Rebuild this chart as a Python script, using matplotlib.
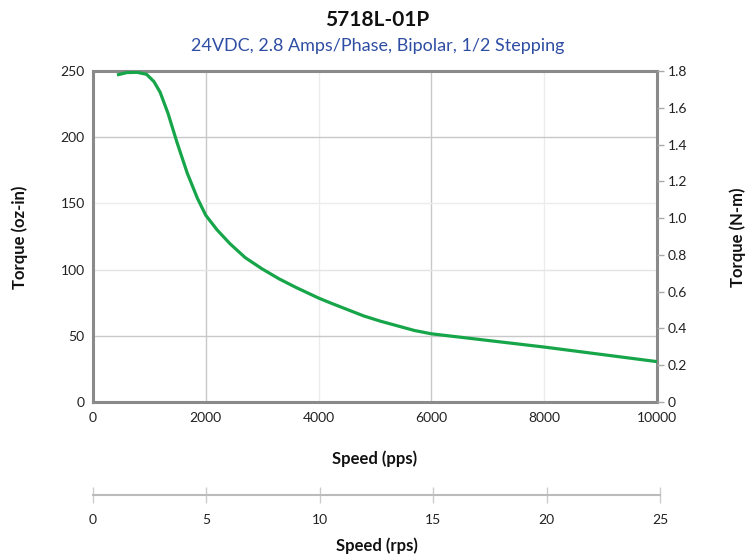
import matplotlib
matplotlib.use("Agg")
import matplotlib.pyplot as plt
import numpy as np

plt.rcParams['font.family'] = ['Lato', 'DejaVu Sans']

# Data
speed_pps = [425, 600, 780, 950, 1080, 1190, 1330, 1490, 1670, 1850, 2000, 2200, 2430,
             2700, 3000, 3300, 3600, 4000, 4200, 4500, 4800, 5100, 5400, 5700, 6000,
             7000, 8000, 9000, 10000]
torque_ozin = [247, 248.8, 249, 247.5, 242, 234, 218, 196, 173, 154, 141, 130, 119.5,
               109, 100.5, 93, 86.5, 78.5, 75, 70, 65, 61, 57.5, 54, 51.5,
               46.5, 41.5, 36, 30.5]

x_ticks = [0, 2000, 4000, 6000, 8000, 10000]
y_ticks = [0, 50, 100, 150, 200, 250]
nm_ticks = [0, 0.2, 0.4, 0.6, 0.8, 1.0, 1.2, 1.4, 1.6, 1.8]
nm_labels = ['0', '0.2', '0.4', '0.6', '0.8', '1.0', '1.2', '1.4', '1.6', '1.8']
rps_ticks = [0, 5, 10, 15, 20, 25]

title = "5718L-01P"
subtitle = "24VDC, 2.8 Amps/Phase, Bipolar, 1/2 Stepping"

W, H = 755, 556
fig = plt.figure(figsize=(W / 100, H / 100), dpi=100)

L, R, T, B = 93, 657, 71, 402
ax = fig.add_axes([L / W, 1 - B / H, (R - L) / W, (B - T) / H])
ax.set_xlim(0, 10000)
ax.set_ylim(0, 250)

# grid lines
strong = '#c8c8c8'
faint = '#ececec'
for xv, c in zip([2000, 4000, 6000, 8000], [strong, faint, strong, faint]):
    ax.axvline(xv, color=c, lw=1.0, zorder=0)
for yv, c in zip([50, 100, 150, 200], [strong, '#e4e4e4', faint, strong]):
    ax.axhline(yv, color=c, lw=1.0, zorder=0)

ax.plot(speed_pps, torque_ozin, color='#17a54a', lw=2.3, solid_capstyle='butt',
        solid_joinstyle='round', zorder=3)

for s in ax.spines.values():
    s.set_color('#8a8a8a')
    s.set_linewidth(2.2)

ax.set_xticks(x_ticks)
ax.set_xticklabels([str(v) for v in x_ticks])
ax.set_yticks(y_ticks)
ax.tick_params(axis='both', length=0, labelsize=10, colors='#222222', pad=7)
ax.tick_params(axis='y', pad=6)

ax2 = ax.twinx()
ax2.set_ylim(0, 1.8)
ax2.set_yticks(nm_ticks)
ax2.set_yticklabels(nm_labels)
ax2.tick_params(axis='y', length=5, width=1, color='#aaaaaa', labelsize=10,
                labelcolor='#222222', pad=3)
for s in ax2.spines.values():
    s.set_visible(False)

fig.text(0.5, 1 - 20 / H, title, ha='center', va='center', fontsize=15,
         fontweight='bold', color='#111111')
fig.text(0.5, 1 - 46 / H, subtitle, ha='center', va='center', fontsize=13,
         color='#2f4ea3')

fig.text(20 / W, 1 - 237 / H, "Torque (oz-in)", rotation=90, ha='center', va='center',
         fontsize=12, fontweight='bold', color='#111111')
fig.text(738 / W, 1 - 237 / H, "Torque (N-m)", rotation=90, ha='center', va='center',
         fontsize=12, fontweight='bold', color='#111111')
fig.text((L + R) / 2 / W, 1 - 459 / H, "Speed (pps)", ha='center', va='center',
         fontsize=12, fontweight='bold', color='#111111')

# secondary rps axis
ax3 = fig.add_axes([L / W, 1 - 495 / H, (660 - L) / W, 0.0001])
ax3.set_xlim(0, 25)
ax3.set_xticks(rps_ticks)
for k, s in ax3.spines.items():
    s.set_visible(k == 'bottom')
ax3.spines['bottom'].set_color('#bbbbbb')
ax3.spines['bottom'].set_linewidth(1.5)
ax3.set_yticks([])
ax3.tick_params(axis='x', direction='inout', length=12, width=1, color='#cccccc',
                labelsize=10, labelcolor='#222222', pad=8)
ax3.patch.set_visible(False)
fig.text((L + 660) / 2 / W, 1 - 546 / H, "Speed (rps)", ha='center', va='center',
         fontsize=12, fontweight='bold', color='#111111')

fig.savefig("out.png", dpi=100)
